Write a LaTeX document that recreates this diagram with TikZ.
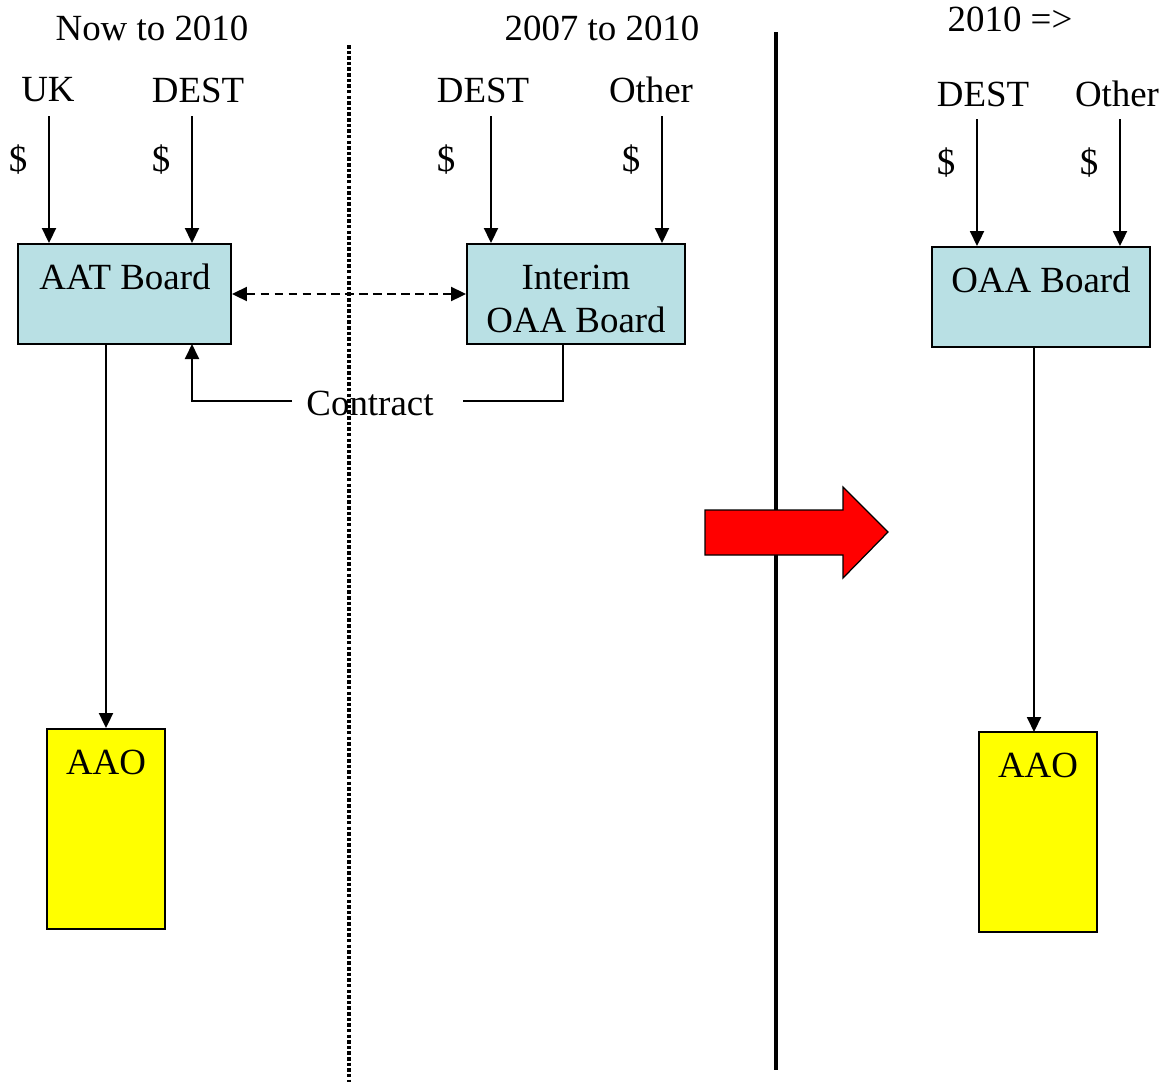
\documentclass[tikz,border=0pt]{standalone}
\usepackage{fontspec}
\setmainfont{Liberation Serif}
\usetikzlibrary{arrows.meta}
\definecolor{boardblue}{RGB}{185,224,228}
\definecolor{officeyellow}{RGB}{255,255,0}
\definecolor{changered}{RGB}{255,0,0}
\begin{document}
\begin{tikzpicture}[x=0.02cm,y=-0.02cm,line join=miter,>={Triangle[length=0.3cm,width=0.28cm]},font=\fontsize{21}{24}\selectfont]
	\tikzset{board/.style={draw,line width=1.1pt,fill=boardblue,minimum width=4.3cm,minimum height=2cm,inner sep=0pt},
		office/.style={draw,line width=1.1pt,fill=officeyellow,minimum width=2.35cm,minimum height=4cm,inner sep=0pt},
		link/.style={line width=1.1pt},
		txt/.style={inner sep=0pt}}
	\useasboundingbox (0,0) rectangle (1172,1082);
	% dividers
	\draw[line width=2.5pt,dash pattern=on 2pt off 1.2pt] (349,45) -- (349,1082);
	\draw[line width=2.4pt] (776,32) -- (776,1070);
	% headings
	\node[txt] (now) at (152,28) {Now to 2010};
	\node[txt] (interimyears) at (602,28) {2007 to 2010};
	\node[txt] (after) at (1010,19) {2010 =>};
	% boxes
	\node[board,minimum width=4.26cm] (aat) at (124.5,294) {};
	\node[board,minimum width=4.36cm] (interim) at (576,294) {};
	\node[board,minimum width=4.36cm] (oaa) at (1041,297) {};
	\node[office] (aaoleft) at (106,829) {};
	\node[office] (aaoright) at (1038,832) {};
	\node[txt] (aatname) at (125,277) {AAT Board};
	\node[txt,align=center] (interimname) at (576,299) {Interim\\OAA Board};
	\node[txt] (oaaname) at (1041,280) {OAA Board};
	\node[txt] (aaoleftname) at (106,762) {AAO};
	\node[txt] (aaorightname) at (1038,765) {AAO};
	% funders
	\node[txt] (uk) at (48,90) {UK};
	\node[txt] (destleft) at (198,90) {DEST};
	\node[txt] (destmid) at (483,90) {DEST};
	\node[txt] (othermid) at (651,90) {Other};
	\node[txt] (destright) at (983,94) {DEST};
	\node[txt] (otherright) at (1117,94) {Other};
	\node[txt] (d1) at (18,160) {\$};
	\node[txt] (d2) at (161,160) {\$};
	\node[txt] (d3) at (446,160) {\$};
	\node[txt] (d4) at (631,160) {\$};
	\node[txt] (d5) at (946,163) {\$};
	\node[txt] (d6) at (1089,163) {\$};
	\coordinate (f1) at (49,116);
	\coordinate (f2) at (192,116);
	\coordinate (f3) at (491,116);
	\coordinate (f4) at (662,116);
	\coordinate (f5) at (977,119);
	\coordinate (f6) at (1120,119);
	\draw[link,->] (f1) -- (f1 |- aat.north);
	\draw[link,->] (f2) -- (f2 |- aat.north);
	\draw[link,->] (f3) -- (f3 |- interim.north);
	\draw[link,->] (f4) -- (f4 |- interim.north);
	\draw[link,->] (f5) -- (f5 |- oaa.north);
	\draw[link,->] (f6) -- (f6 |- oaa.north);
	% boards to offices
	\draw[link,->] (aaoleft.north |- aat.south) -- (aaoleft.north);
	\coordinate (down) at (1034,732);
	\draw[link,->] (down |- oaa.south) -- (down);
	% link between the boards
	\draw[link,<->,dash pattern=on 5pt off 3pt] (aat.east) -- (interim.west);
	\node[txt] (contract) at (370,403) {Contract};
	\coordinate (cfrom) at (563,344);
	\coordinate (cto) at (192,344);
	\coordinate (cr) at (463,401);
	\coordinate (cl) at (292,401);
	\draw[link] (cfrom) |- (cr);
	\draw[link,->] (cl) -| (cto);
	% change over
	\draw[fill=changered,line width=0.7pt] (705,510) -- (843,510) -- (843,487) -- (888,532) -- (843,578) -- (843,555) -- (705,555) -- cycle;
\end{tikzpicture}
\end{document}
